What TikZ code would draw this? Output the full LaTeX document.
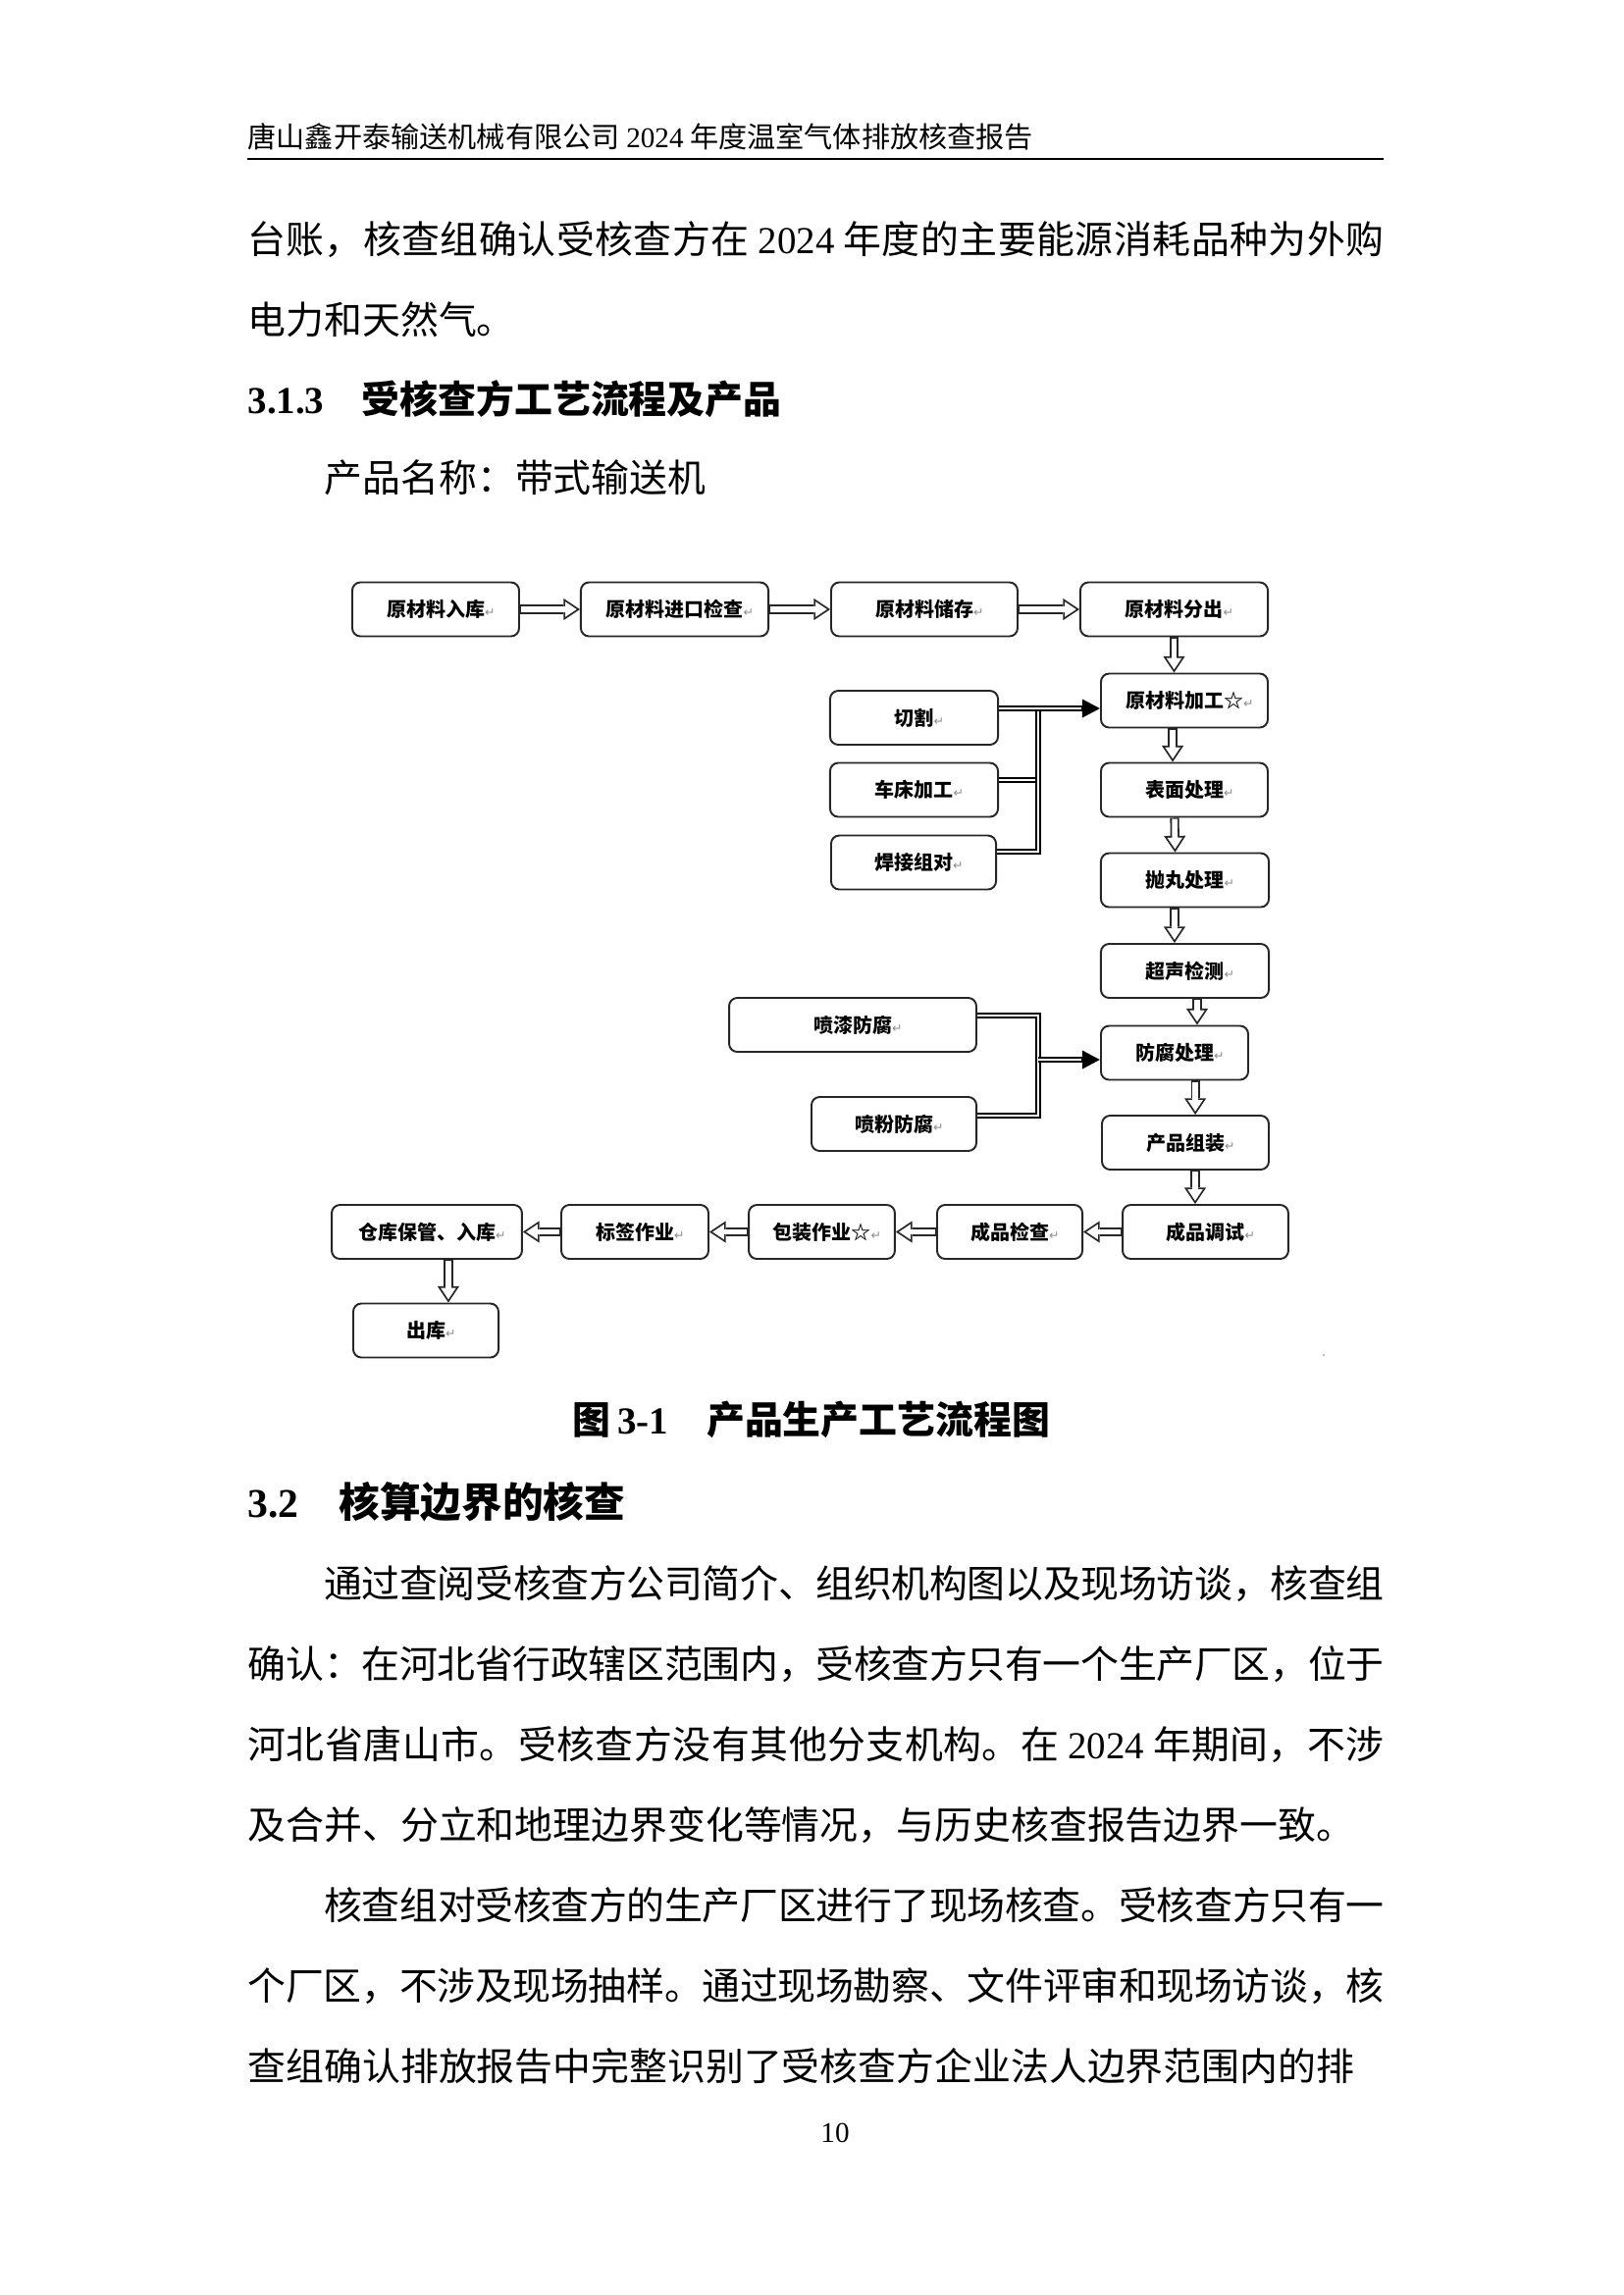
\documentclass[tikz,border=0pt]{standalone}
\usepackage{fontspec}
\setmainfont{Noto Sans CJK SC}
\newfontfamily\tnr{Liberation Serif}
\newfontfamily\symf{DejaVu Sans}
\usetikzlibrary{arrows.meta}
\XeTeXlinebreaklocale "zh"
\XeTeXlinebreakskip=0pt plus 2pt minus 0.4pt

\newcommand\retmark{\rlap{\textcolor{black!45}{\symf\mdseries\fontsize{4.5}{5}\selectfont ↵}}}

\tikzset{
	stepbox/.style={draw=black!85, line width=0.7pt, rounded corners=3pt,
		minimum width=#1, minimum height=19.8pt, inner sep=0pt,
		font=\fontsize{7.2}{8}\selectfont\bfseries},
	flow/.style={draw=black!85, line width=3.3pt,
		-{Triangle[length=6pt,width=8pt,line width=0pt]},
		postaction={draw=white, line width=2pt, -, shorten >=5pt, shorten <=0.4pt},
		postaction={draw=white, line width=0.1pt, shorten >=1.17pt, shorten <=1pt,
			-{Triangle[length=4.18pt,width=5.57pt,line width=0pt]}}},
	merge/.style={double, double distance=0.8pt, line width=0.75pt},
	tip/.style={line width=1.2pt, -{Triangle[length=6.5pt,width=6.5pt]}},
	txt/.style={anchor=base west, inner sep=0pt},
	para/.style={txt, text width=416.9pt, align=justify,
		font=\fontsize{14}{29.52}\selectfont},
}

\begin{document}
\begin{tikzpicture}[x=0.36pt, y=-0.36pt]
	\fill[white] (0,0) rectangle (1654,2339);
	
	% page head
	\node[txt, font=\fontsize{10.5}{12}\selectfont] (head) at (252,150)
		{唐山鑫开泰输送机械有限公司 {\tnr 2024} 年度温室气体排放核查报告};
	\draw[line width=0.75pt] (252,162) -- (1410,162);
	
	\node[para] (intro) at (252,258)
		{台账，核查组确认受核查方在 {\tnr 2024} 年度的主要能源消耗品种为外购\linebreak
		电力和天然气。};
	\node[txt, font=\fontsize{14}{16}\selectfont\bfseries] (sec) at (252,421)
		{\makebox[41.8pt][l]{\tnr\bfseries 3.1.3}受核查方工艺流程及产品};
	\node[txt, font=\fontsize{14}{16}\selectfont] (pname) at (330,501)
		{产品名称：带式输送机};
	
	% main line
	\node[stepbox=61.2pt] (ruku) at (444,621) {原材料入库\retmark};
	\node[stepbox=68.8pt] (jiancha) at (687.5,621) {原材料进口检查\retmark};
	\node[stepbox=68.4pt] (chucun) at (942,621) {原材料储存\retmark};
	\node[stepbox=68.8pt] (fenchu) at (1196.5,621) {原材料分出\retmark};
	\node[stepbox=61.2pt] (jiagong) at (1207,714) {原材料加工☆\retmark};
	\node[stepbox=61.2pt] (biaomian) at (1207,805) {表面处理\retmark};
	\node[stepbox=61.6pt] (paowan) at (1207.5,897) {抛丸处理\retmark};
	\node[stepbox=61.6pt] (chaosheng) at (1207.5,989.5) {超声检测\retmark};
	\node[stepbox=54pt] (fangfu) at (1197,1073) {防腐处理\retmark};
	\node[stepbox=61.2pt] (zuzhuang) at (1208,1164.5) {产品组装\retmark};
	\node[stepbox=60.8pt] (tiaoshi) at (1228.5,1255.5) {成品调试\retmark};
	\node[stepbox=53.3pt] (jianyan) at (1029,1255.5) {成品检查\retmark};
	\node[stepbox=53.6pt] (baozhuang) at (837.5,1255.5) {包装作业☆\retmark};
	\node[stepbox=54pt] (biaoqian) at (647,1255.5) {标签作业\retmark};
	\node[stepbox=69.8pt] (cangku) at (435,1255.5) {仓库保管、入库\retmark};
	\node[stepbox=53.3pt] (chuku) at (434,1356) {出库\retmark};
	
	% side steps
	\node[stepbox=61.6pt] (qiege) at (931.5,731.5) {切割\retmark};
	\node[stepbox=61.6pt] (chechuang) at (931.5,805) {车床加工\retmark};
	\node[stepbox=60.5pt] (hanjie) at (931,879) {焊接组对\retmark};
	\node[stepbox=90.7pt] (penqi) at (869,1044.5) {喷漆防腐\retmark};
	\node[stepbox=60.5pt] (penfen) at (911,1145.5) {喷粉防腐\retmark};
	
	\draw[flow] (ruku) -- (jiancha);
	\draw[flow] (jiancha) -- (chucun);
	\draw[flow] (chucun) -- (fenchu);
	\draw[flow] (fenchu.south) -- (fenchu.south |- jiagong.north);
	\draw[flow] ([xshift=-4.3pt]jiagong.south) -- ([xshift=-4.3pt]biaomian.north);
	\draw[flow] ([xshift=-3.6pt]biaomian.south) -- ([xshift=-3.6pt]paowan.north);
	\draw[flow] ([xshift=-3.8pt]paowan.south) -- ([xshift=-3.8pt]chaosheng.north);
	\draw[flow] ([xshift=4.5pt]chaosheng.south) -- ([xshift=4.5pt]chaosheng.south |- fangfu.north);
	\draw[flow] ([xshift=7.6pt]fangfu.south) -- ([xshift=7.6pt]fangfu.south |- zuzhuang.north);
	\draw[flow] ([xshift=3.6pt]zuzhuang.south) -- ([xshift=3.6pt]zuzhuang.south |- tiaoshi.north);
	\draw[flow] (tiaoshi) -- (jianyan);
	\draw[flow] (jianyan) -- (baozhuang);
	\draw[flow] (baozhuang) -- (biaoqian);
	\draw[flow] (biaoqian) -- (cangku);
	\draw[flow] ([xshift=7.9pt]cangku.south) -- ([xshift=7.9pt]cangku.south |- chuku.north);
	
	% joins into the main line
	\coordinate (m1) at (1058,722);
	\coordinate (m2) at (1058,795);
	\coordinate (m3) at (1058,868);
	\draw[merge] (chechuang.east |- m2) -- (m2);
	\draw[merge] (hanjie.east |- m3) -- (m3) -- (m1);
	\draw[merge] (qiege.east |- m1) -- ([xshift=-6pt]jiagong.west |- m1);
	\draw[tip] ([xshift=-7pt]jiagong.west |- m1) -- (jiagong.west |- m1);
	
	\coordinate (n1) at (1058,1035);
	\coordinate (n2) at (1058,1137);
	\coordinate (n3) at (1058,1080);
	\draw[merge] (penqi.east |- n1) -- (n1) -- (n2) -- (penfen.east |- n2);
	\draw[merge] (n3) -- ([xshift=-6pt]fangfu.west |- n3);
	\draw[tip] ([xshift=-7pt]fangfu.west |- n3) -- (fangfu.west |- n3);
	
	\fill[black!35] (1349,1381) circle (1.2);
	
	\node[txt, font=\fontsize{14}{16}\selectfont\bfseries] (cap) at (583,1461)
		{图\hspace{2.5pt}{\tnr\bfseries 3-1}\hspace{14pt}产品生产工艺流程图};
	\node[txt, font=\fontsize{15}{18}\selectfont\bfseries] (sec2) at (252,1546)
		{\makebox[33.5pt][l]{\tnr\bfseries 3.2}核算边界的核查};
	
	\node[para] (body) at (252,1628)
		{\hspace*{28pt}通过查阅受核查方公司简介、组织机构图以及现场访谈，核查组\linebreak
		确认：在河北省行政辖区范围内，受核查方只有一个生产厂区，位于\linebreak
		河北省唐山市。受核查方没有其他分支机构。在 {\tnr 2024} 年期间，不涉\linebreak
		及合并、分立和地理边界变化等情况，与历史核查报告边界一致。\par
		\parfillskip=0pt
		\hspace*{28pt}核查组对受核查方的生产厂区进行了现场核查。受核查方只有一\linebreak
		个厂区，不涉及现场抽样。通过现场勘察、文件评审和现场访谈，核\linebreak
		查组确认排放报告中完整识别了受核查方企业法人边界范围内的排};
	
	\node[anchor=base, inner sep=0pt, font=\tnr\fontsize{10.5}{12}\selectfont] (pnum) at (851,2183) {10};
\end{tikzpicture}
\end{document}
